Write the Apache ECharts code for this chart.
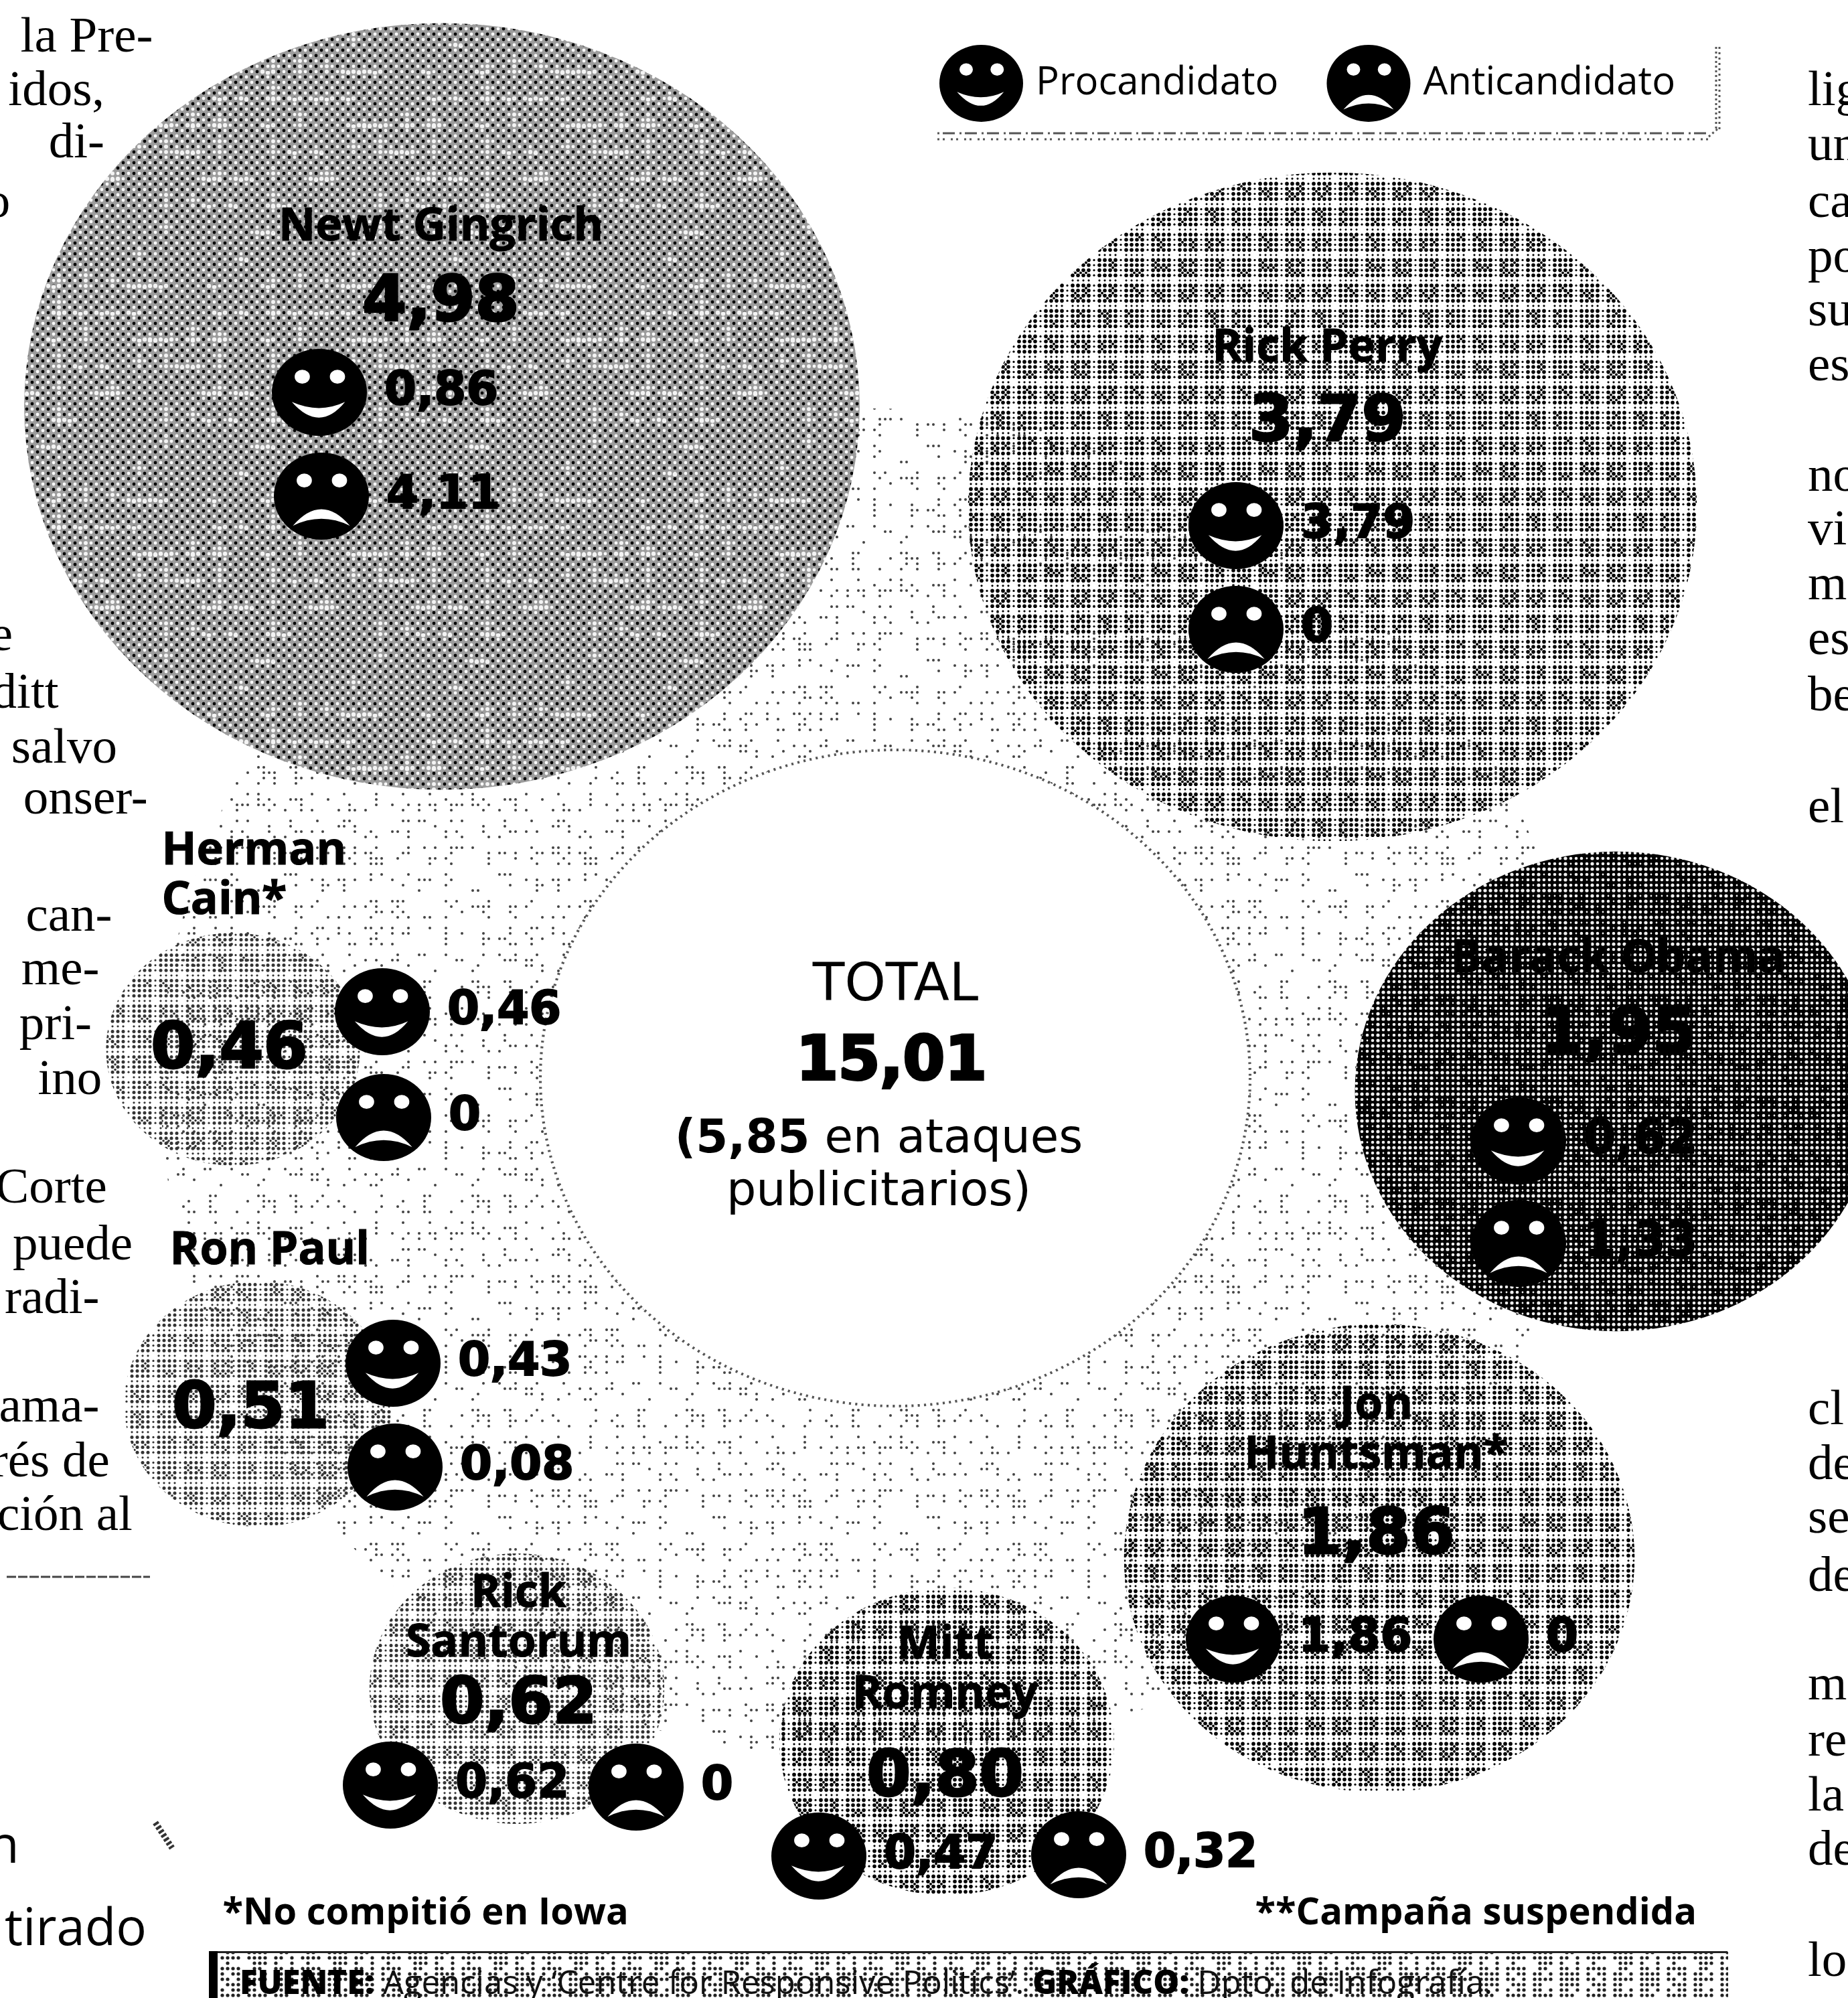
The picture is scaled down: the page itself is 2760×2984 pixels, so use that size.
<!DOCTYPE html>
<html><head><meta charset="utf-8">
<style>html,body{margin:0;padding:0;background:#fff}#c{width:2760px;height:2984px}</style>
<script src="https://cdn.jsdelivr.net/npm/echarts@6/dist/echarts.min.js"></script>
</head><body><div id="c"></div>
<script>
// ---- data ----
const candidates = ['Newt Gingrich','Rick Perry','Barack Obama','Jon\nHuntsman*','Mitt\nRomney','Rick\nSantorum','Ron Paul','Herman\nCain*'];
const totals = [4.98,3.79,1.95,1.86,0.80,0.62,0.51,0.46];
const proValues = [0.86,3.79,0.62,1.86,0.47,0.62,0.43,0.46];
const antiValues = [4.11,0,1.33,0,0.32,0,0.08,0];
const grandTotal = 15.01;
const adAttacks = 5.85;

// ---- layout (in axis units, passed through the chart's scales) ----
const bubbleX = [660,1990,2414,2060,1414,772,385,348];
const bubbleY = [607,757,1630,2327,2601,2522,2097,1567];
const nameX = [659,1983,2417,2056,1412,775,254,242];
const nameY = [340,521,1433,2137,2495,2418,1869,1309];
const nameAlign = ['center','center','center','center','center','center','left','left'];
const totalX = [659,1983,2417,2056,1412,775,375,343];
const totalY = [455,634,1548,2296,2658,2549,2108,1571];
const proX = [477,1846,2268,1842,1223,583,587,571];
const proY = [586,785,1704,2448,2772,2666,2036,1511];
const antiX = [480,1846,2268,2212,1611,950,590,573];
const antiY = [741,940,1857,2448,2770,2669,2191,1669];
const texture = ['mottled','cellsMid','night','cellsMid','cellsMid','cellsLight','cellsLight','cellsLight'];

const STRETCH = 1.09, K = 513;
const FACE_W = 142, FACE_H = 130;
const SMILE = 'path://M0 50A50 50 0 1 1 100 50A50 50 0 1 1 0 50ZM24 32A8 8 0 1 0 40 32A8 8 0 1 0 24 32ZM61 32A8 8 0 1 0 77 32A8 8 0 1 0 61 32ZM21 61Q50 97 77 61Q50 75 21 61Z';
const FROWN = 'path://M0 50A50 50 0 1 1 100 50A50 50 0 1 1 0 50ZM24 32A8 8 0 1 0 40 32A8 8 0 1 0 24 32ZM61 32A8 8 0 1 0 77 32A8 8 0 1 0 61 32ZM20 84Q50 68 80 84Q50 46 20 84Z';

// ---- halftone textures ----
const shade = (i,j)=>{const s=Math.sin(i*127.1+j*311.7)*43758.5453;return s-Math.floor(s);};
function tile(w,h,draw){const c=document.createElement('canvas');c.width=w;c.height=h;draw(c.getContext('2d'),w,h);return c;}
function dot(g,x,y,r,col){g.fillStyle=col;g.beginPath();g.arc(x,y,r,0,Math.PI*2);g.fill();}
function cells(r,col,cw,ch,gapR,extra){
  return tile(cw*4,ch*4,(g,w,h)=>{
    for(let i=0;i<w/8;i++)for(let j=0;j<20;j++){
      const x=i*8+4,y=j*ch/5+3.8;
      const ci=i%5,cj=j%5;
      if(ci===0&&cj===0) continue;
      if(ci===0||cj===0){ dot(g,x,y,gapR,col); continue; }
      dot(g,x,y,r,col);
      if(ci<4&&cj<4&&shade(i,j)<extra) dot(g,x+4,y+3.8,r*0.7,col);
    }
  });
}
const patterns = {
  mottled: tile(320,320,(g,w,h)=>{
    g.fillStyle='#9c9c9c';g.fillRect(0,0,w,h);
    for(let i=0;i<40;i++)for(let j=0;j<40;j++){
      dot(g,i*8+4,j*8+4,2.4,(i+j)%2?'#fff':'#000');
    }
    for(let j=0;j<8;j++)for(let i=0;i<8;i++){
      if(shade(i,j)<0.45){
        const row=j*5+2,start=i*5+Math.floor(shade(j,i)*3),len=2+Math.floor(shade(i,j+7)*4);
        for(let k=0;k<len;k++) dot(g,(start+k)*8+4,row*8+4+(k%2?1.5:0),3.2,'#f4f4f4');
      }
      if(shade(i+9,j+2)<0.3){
        const col=i*5+3,start=j*5;
        for(let k=0;k<3;k++) dot(g,col*8+4,(start+k)*8+4,3,'#f4f4f4');
      }
    }
  }),
  cellsMid: cells(2.8,'#000',40,38,1.6,0.35),
  cellsLight: cells(2.5,'#333',40,38,1.6,0.3),
  night: tile(160,152,(g,w,h)=>{
    g.fillStyle='#000';g.fillRect(0,0,w,h);
    for(let i=0;i<20;i++)for(let j=0;j<19;j++){
      const gap=(i%5===0)||(j%5===0);
      dot(g,i*8+4,j*8+4,gap?2.6:(shade(i,j)<0.7?2.3:1.4),'#f0f0f0');
    }
  }),
  stipple: tile(320,320,(g)=>{
    for(let a=0;a<8;a++)for(let b=0;b<8;b++){
      for(let i=0;i<4;i++)for(let j=0;j<4;j++){
        if(shade(a*4+i,b*4+j)<0.3) dot(g,a*40+i*8+6,b*40+j*8+6,2,'#444');
      }
    }
  }),
  bar: tile(120,120,(g)=>{
    for(let i=0;i<15;i++)for(let j=0;j<15;j++){
      if(shade(i,j)<0.75&&i%5!==0) dot(g,i*8+4,j*8+4,2.6,'#222');
    }
  })
};
function fillFor(name,w,h){return {image:patterns[name],repeat:'repeat',scaleX:2/w,scaleY:2/h};}

// ---- surrounding page text (x,y in reference thumbnail units) ----
const S = 2760/1450;
const leftColumn = [['la Pre-',120,30],['idos,',82,72],['di-',82,113],['o',8,160],['e',10,500],['ditt',46,545],['salvo',92,588],['onser-',116,628],['can-',88,720],['me-',78,762],['pri-',72,805],['ino',80,848],['Corte',84,933],['puede',104,978],['radi-',78,1020],['ama-',78,1105],['rés de',86,1148],['ción al',104,1190]];
const rightColumn = [['lig',72],['un',115],['ca',160],['po',203],['su',245],['es',288],['no',375],['vi',417],['m',460],['es',503],['be',547],['el',635],['cl',1107],['de',1150],['se',1192],['de',1238],['m',1323],['re',1367],['la',1410],['de',1453],['lo',1540]];
const SERIF = '400 75px "Liberation Serif"';
const fmt = v => v===0 ? '0' : v.toFixed(2).replace('.',',');

const graphics = [];
leftColumn.forEach(t=>graphics.push({type:'text',silent:true,z:1,style:{text:t[0],x:t[1]*S,y:t[2]*S,align:'right',verticalAlign:'middle',font:SERIF,fill:'#000'}}));
rightColumn.forEach(t=>graphics.push({type:'text',silent:true,z:1,style:{text:t[0],x:2700,y:t[1]*S,align:'left',verticalAlign:'middle',font:SERIF,fill:'#000'}}));
const rule = (x1,y1,x2,y2,w,dash,col)=>({type:'line',silent:true,z:1,shape:{x1,y1,x2,y2},style:{stroke:col||'#444',lineWidth:w,lineDash:dash||null}});
graphics.push(
  {type:'text',silent:true,z:1,style:{text:'n',x:15*S,y:1450*S,align:'right',verticalAlign:'middle',font:'400 76px "Open Sans"',fill:'#000'}},
  {type:'text',silent:true,z:1,style:{text:'tirado',x:115*S,y:1515*S,align:'right',verticalAlign:'middle',font:'400 76px "Open Sans"',fill:'#000'}},
  rule(10,2355,224,2355,3,[14,3],'#444'),
  rule(232,2722,257,2760,9,[4,3],'#333'),
  // legend box rule
  rule(1400,199,2552,199,3,[3,5,18,7],'#555'),
  rule(1400,208,2552,208,3,[3,5,3,9],'#555'),
  rule(2552,204,2566,192,3,[3,4],'#555'),
  rule(2563,70,2563,195,3,[3,4],'#555'),
  rule(2568,70,2568,195,3,[3,5],'#555'),
  // source strip
  {type:'rect',silent:true,z:1,shape:{x:314,y:2915,width:2267,height:69},style:{fill:{image:patterns.bar,repeat:'repeat'}}},
  {type:'rect',silent:true,z:2,shape:{x:312,y:2914,width:2268,height:3},style:{fill:'#222'}},
  {type:'rect',silent:true,z:2,shape:{x:312,y:2914,width:13,height:70},style:{fill:'#000'}},
  {type:'text',silent:true,z:3,style:{x:358,y:2964,align:'left',verticalAlign:'middle',
    text:'{b|FUENTE:} Agencias y ‘Centre for Responsive Politics’. {b|GRÁFICO:} Dpto. de Infografía.',
    fontFamily:'Open Sans',fontSize:49,fill:'#111',rich:{b:{fontFamily:'Open Sans',fontWeight:800,fontSize:49,fill:'#000'}}}}
);

const bubbleW = v=>K*Math.sqrt(v)*STRETCH, bubbleH = v=>K*Math.sqrt(v);
const faceBack = [...proX.map((x,i)=>[x,proY[i]]),...antiX.map((x,i)=>[x,antiY[i]])];
const solid = c=>({color:c,opacity:1});
const textLayer = {type:'scatter',symbol:'circle',symbolSize:1,itemStyle:{color:'transparent',opacity:1},silent:true,z:20};
const pinned = (fontFamily,fontWeight,fontSize,align,lineHeight,heavy)=>({show:true,position:[0,0],align:align||'center',verticalAlign:'middle',color:'#000',fontFamily,fontWeight,fontSize,lineHeight,textBorderColor:'#000',textBorderWidth:heavy||0});
const faceLabel = {show:true,position:'right',distance:26,formatter:p=>fmt(p.value[2]),color:'#000',fontFamily:'DejaVu Sans',fontWeight:'bold',fontSize:69,textBorderColor:'#000',textBorderWidth:2};

const option = {
  animation:false,
  backgroundColor:'#fff',
  grid:{left:0,right:0,top:0,bottom:0},
  xAxis:{type:'value',min:0,max:2760,show:false},
  yAxis:{type:'value',min:0,max:2984,inverse:true,show:false},
  graphic:graphics,
  legend:{
    selectedMode:false,left:1398,top:62,itemWidth:125,itemHeight:115,itemGap:72,symbolKeepAspect:false,
    textStyle:{fontFamily:'Open Sans',fontSize:58,color:'#000',padding:[6,0,0,14]},
    data:[{name:'Procandidato',icon:SMILE},{name:'Anticandidato',icon:FROWN}]
  },
  series:[
    {type:'scatter',name:'halo',silent:true,z:3,data:[[1300,1620]],symbol:'circle',symbolSize:[2120,2020],
      itemStyle:{color:fillFor('stipple',2120,2020),opacity:1}},
    {type:'scatter',name:'hole',silent:true,z:4,data:[[1337,1610]],symbol:'circle',symbolSize:[1060,980],
      itemStyle:{color:'#fff',opacity:1,borderColor:'#555',borderWidth:4,borderType:[3,6]}},
    {type:'scatter',name:'bubbles',silent:true,z:5,
      symbol:'circle',
      symbolSize:v=>[bubbleW(v[2]),bubbleH(v[2])],
      itemStyle:{opacity:1},
      data:totals.map((v,i)=>({name:candidates[i],value:[bubbleX[i],bubbleY[i],v],
        itemStyle:{color:fillFor(texture[i],bubbleW(v),bubbleH(v)),opacity:1}}))},
    {type:'scatter',name:'faceBack',silent:true,z:6,symbol:'circle',symbolSize:[FACE_W-4,FACE_H-4],itemStyle:solid('#fff'),data:faceBack},
    {type:'scatter',name:'Procandidato',silent:true,z:7,symbol:SMILE,symbolSize:[FACE_W,FACE_H],itemStyle:solid('#000'),
      label:faceLabel,
      data:proValues.map((v,i)=>[proX[i],proY[i],v])},
    {type:'scatter',name:'Anticandidato',silent:true,z:7,symbol:FROWN,symbolSize:[FACE_W,FACE_H],itemStyle:solid('#000'),
      label:faceLabel,
      data:antiValues.map((v,i)=>[antiX[i],antiY[i],v])},
    Object.assign({},textLayer,{name:'names',
      data:candidates.map((c,i)=>({value:[nameX[i],nameY[i]],
        label:Object.assign(pinned('Open Sans',700,68,nameAlign[i],74,1),{formatter:c})}))}),
    Object.assign({},textLayer,{name:'totals',
      data:totals.map((v,i)=>({value:[totalX[i],totalY[i]],
        label:Object.assign(pinned('DejaVu Sans','bold',95,'center',null,3),{formatter:fmt(v)})}))}),
    Object.assign({},textLayer,{name:'summary',data:[
      {value:[1338,1474],label:Object.assign(pinned('DejaVu Sans',400,78),{formatter:'TOTAL'})},
      {value:[1332,1589],label:Object.assign(pinned('DejaVu Sans','bold',90,'center',null,4),{formatter:fmt(grandTotal)})},
      {value:[1313,1704],label:Object.assign(pinned('DejaVu Sans',400,69),{formatter:'{b|('+fmt(adAttacks)+'} en ataques',rich:{b:{fontFamily:'DejaVu Sans',fontWeight:'bold',fontSize:69,color:'#000'}}})},
      {value:[1313,1782],label:Object.assign(pinned('DejaVu Sans',400,70),{formatter:'publicitarios)'})},
      {value:[333,2859],label:Object.assign(pinned('Open Sans',700,56,'left'),{formatter:'*No compitió en Iowa'})},
      {value:[1875,2859],label:Object.assign(pinned('Open Sans',700,56,'left'),{formatter:'**Campaña suspendida'})}
    ]})
  ]
};
const chart = echarts.init(document.getElementById('c'),null,{renderer:'canvas'});
chart.setOption(option);
</script></body></html>
